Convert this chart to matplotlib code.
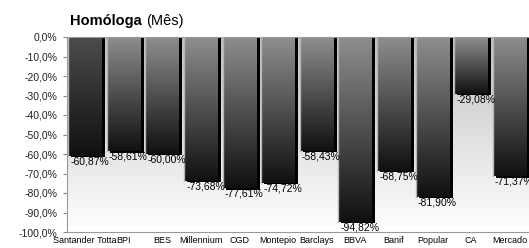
import matplotlib
matplotlib.use("Agg")
import matplotlib.pyplot as plt
from matplotlib.colors import LinearSegmentedColormap
import numpy as np

banks = ["Santander Totta", "BPI", "BES", "Millennium", "CGD", "Montepio",
         "Barclays", "BBVA", "Banif", "Popular", "CA", "Mercado"]
values = [-60.87, -58.61, -60.00, -73.68, -77.61, -74.72,
          -58.43, -94.82, -68.75, -81.90, -29.08, -71.37]
yticks = [0, -10, -20, -30, -40, -50, -60, -70, -80, -90, -100]

plt.rcParams['font.family'] = ['Liberation Sans', 'DejaVu Sans']

fig = plt.figure(figsize=(5.29, 2.48), dpi=100)
ax = fig.add_axes([67 / 529, 16 / 248, 1 - 67 / 529, (232 - 37) / 248])

xlim = (-0.47, 11.5)

# plot area background: light grey fading to white
bg = LinearSegmentedColormap.from_list("bg", ["#c0c0c0", "#ffffff"])
grad = np.linspace(0, 1, 256).reshape(-1, 1)
ax.imshow(grad, cmap=bg, aspect='auto', extent=[xlim[0], xlim[1], -100, 0],
          zorder=0, interpolation='bicubic')

w = 0.88
for i, v in enumerate(values):
    top = "#4c4c4c" if i == 0 else "#8e8e8e"
    cm = LinearSegmentedColormap.from_list("b%d" % i, [top, "#101010"])
    # shadow
    ax.bar(i + 0.08, v - 0.7, width=w, color="black", zorder=1)
    ax.imshow(grad, cmap=cm, aspect='auto',
              extent=[i - w / 2, i + w / 2, v, 0], zorder=2)
    ax.plot([i - w / 2, i - w / 2], [0, v], color="#b4b4b4", lw=1, zorder=3)
    ax.text(i + 0.12, v - 0.3, ("%.2f%%" % v).replace(".", ","),
            ha='center', va='top', fontsize=7.5, color="black", zorder=4)

ax.set_xlim(*xlim)
ax.set_ylim(-100, 0)
ax.set_xticks(range(len(banks)))
ax.set_xticklabels(banks, fontsize=6.5)
ax.tick_params(axis='x', length=0, pad=3)
ax.set_yticks(yticks)
ax.set_yticklabels([("%.1f%%" % t).replace(".", ",").replace("-0,0", "0,0") for t in yticks],
                   fontsize=7.5, color="#222222")
ax.tick_params(axis='y', length=3, pad=4, color="#888888")

for s in ['left', 'bottom', 'top']:
    ax.spines[s].set_color("#999999")
    ax.spines[s].set_linewidth(0.8)
ax.spines['right'].set_visible(False)

t1 = fig.text(70 / 529, 1 - 25 / 248, "Homóloga", fontsize=10.5, fontweight='bold')
fig.canvas.draw()
bb = t1.get_window_extent()
fig.text((bb.x1 + 4) / 529, 1 - 25 / 248, "(Mês)", fontsize=10.5)

fig.savefig("out.png", dpi=100)
